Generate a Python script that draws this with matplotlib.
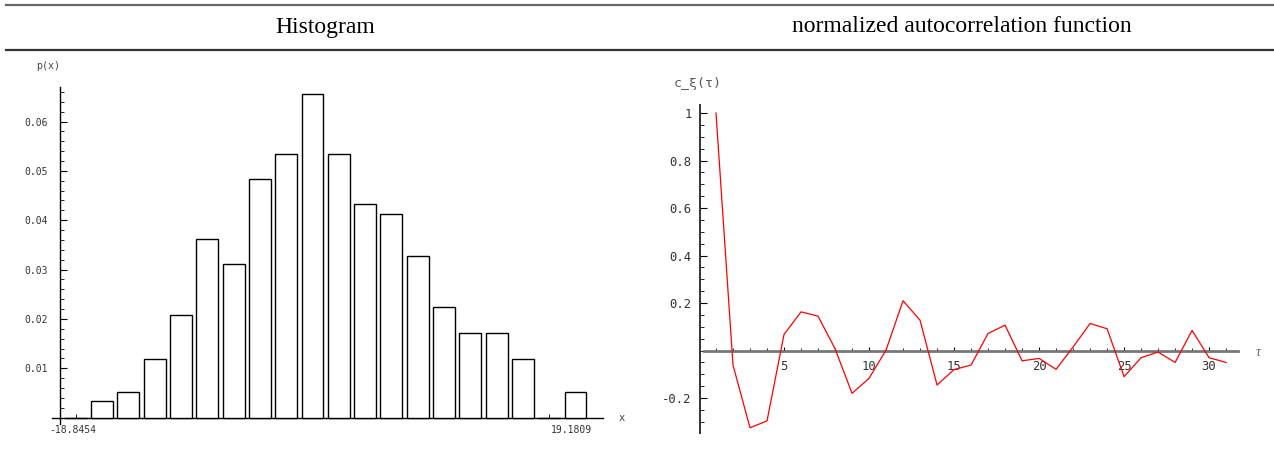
import numpy as np
import matplotlib
matplotlib.use("Agg")
import matplotlib.pyplot as plt
from matplotlib.lines import Line2D
from matplotlib.ticker import FixedLocator, FuncFormatter

plt.rcParams["axes.unicode_minus"] = False

# ---- data -------------------------------------------------------------
hist_bins = np.arange(20)  # bin index
hist_density = [0.0, 0.0034, 0.0051, 0.0119, 0.0207, 0.0361, 0.0311, 0.0483,
                0.0534, 0.0656, 0.0534, 0.0432, 0.0413, 0.0328, 0.0224,
                0.0172, 0.0172, 0.0119, 0.0, 0.0051]
hist_tick_labels = ["-18.8454", "19.1809"]
hist_yticks = [0.01, 0.02, 0.03, 0.04, 0.05, 0.06]

tau = np.arange(1, 32)
acf = [1.0, -0.061, -0.325, -0.296, 0.068, 0.163, 0.145, 0.008, -0.180,
       -0.117, 0.002, 0.210, 0.128, -0.145, -0.080, -0.061, 0.072, 0.107,
       -0.043, -0.033, -0.079, 0.015, 0.114, 0.092, -0.110, -0.030,
       -0.006, -0.050, 0.085, -0.030, -0.050]
acf_yticks = [-0.2, 0.2, 0.4, 0.6, 0.8, 1.0]
acf_xticks = [5, 10, 15, 20, 25, 30]

titles = ["Histogram", "normalized autocorrelation function"]

# ---- figure -----------------------------------------------------------
W, H = 1274, 451
fig = plt.figure(figsize=(W / 100, H / 100), dpi=100)
fig.patch.set_facecolor("white")


def fx(px):
    return px / W


def fy(py):
    return 1 - py / H


# header rules and titles
fig.add_artist(Line2D([fx(6), 1], [fy(5), fy(5)], color="#666666", lw=1.6))
fig.add_artist(Line2D([fx(6), 1], [fy(50), fy(50)], color="#333333", lw=1.6))
fig.text(fx(325), fy(27), titles[0], ha="center", va="center",
         family="Liberation Serif", fontsize=17, color="black")
fig.text(fx(962), fy(27), titles[1], ha="center", va="center",
         family="Liberation Serif", fontsize=17, color="black")

mono = "DejaVu Sans Mono"
tick_col = "#333333"

# ---- histogram --------------------------------------------------------
ax1 = fig.add_axes([fx(52), fy(424), fx(603 - 52), (424 - 87) / H])
ax1.bar(hist_bins, hist_density, width=0.83, facecolor="white",
        edgecolor="black", linewidth=1.0, zorder=3)
ax1.set_xlim(-0.905, 20.045)
ax1.set_ylim(-0.0013, 0.0670)
for s in ("top", "right"):
    ax1.spines[s].set_visible(False)
ax1.spines["left"].set_position(("data", -0.6))
ax1.spines["bottom"].set_position(("data", 0))
ax1.spines["left"].set_linewidth(1.0)
ax1.spines["bottom"].set_linewidth(1.0)
ax1.patch.set_alpha(0)

ax1.yaxis.set_major_locator(FixedLocator(hist_yticks))
ax1.yaxis.set_minor_locator(FixedLocator(np.arange(0.002, 0.067, 0.002)))
ax1.yaxis.set_major_formatter(FuncFormatter(lambda v, p: f"{v:.2f}"))
ax1.tick_params(axis="y", which="major", direction="in", length=5, width=0.8,
                pad=8.5, labelsize=7, labelcolor=tick_col)
ax1.tick_params(axis="y", which="minor", direction="in", length=3, width=0.6)
for lab in ax1.get_yticklabels():
    lab.set_family(mono)

ax1.set_xticks([-0.125, 18.855])
ax1.set_xticklabels(hist_tick_labels)
ax1.xaxis.set_minor_locator(FixedLocator([0, 18]))
ax1.tick_params(axis="x", which="major", direction="in", length=0,
                pad=5.5, labelsize=7, labelcolor=tick_col)
ax1.tick_params(axis="x", which="minor", direction="in", length=3, width=0.6)
for lab in ax1.get_xticklabels():
    lab.set_family(mono)

fig.text(fx(36), fy(66), "p(x)", ha="left", va="center", family=mono,
         fontsize=7.2, color="#444444")
fig.text(fx(622), fy(418), "x", ha="center", va="center", family=mono,
         fontsize=7.5, color="#444444")

# ---- autocorrelation --------------------------------------------------
ax2 = fig.add_axes([fx(699), fy(433), fx(1238 - 699), (433 - 105) / H])
ax2.plot(tau, acf, color="red", lw=0.9, zorder=3)
ax2.set_xlim(0, 31.7)
ax2.set_ylim(-0.347, 1.034)
for s in ("top", "right"):
    ax2.spines[s].set_visible(False)
ax2.spines["left"].set_position(("data", 0.06))
ax2.spines["bottom"].set_position(("data", 0))
ax2.spines["bottom"].set_bounds(0.3, 31.7)
ax2.spines["left"].set_linewidth(1.4)
ax2.spines["left"].set_color("#333333")
ax2.spines["bottom"].set_linewidth(2.0)
ax2.spines["bottom"].set_color("#777777")
ax2.patch.set_alpha(0)

ax2.yaxis.set_major_locator(FixedLocator(acf_yticks))
ax2.yaxis.set_minor_locator(FixedLocator(np.arange(-0.35, 1.03, 0.05)))
ax2.yaxis.set_major_formatter(FuncFormatter(lambda v, p: f"{v:g}"))
ax2.tick_params(axis="y", which="major", direction="in", length=5, width=0.8,
                pad=6, labelsize=8.8, labelcolor=tick_col)
ax2.tick_params(axis="y", which="minor", direction="in", length=3, width=0.6)

ax2.xaxis.set_major_locator(FixedLocator(acf_xticks))
ax2.xaxis.set_minor_locator(FixedLocator(np.arange(1, 32)))
ax2.xaxis.set_major_formatter(FuncFormatter(lambda v, p: f"{v:g}"))
ax2.tick_params(axis="x", which="major", direction="in", length=3, width=0.8,
                pad=7, labelsize=8.8, labelcolor=tick_col)
ax2.tick_params(axis="x", which="minor", direction="in", length=2, width=0.6)
for lab in ax2.get_yticklabels() + ax2.get_xticklabels():
    lab.set_family(mono)

fig.text(fx(674), fy(83), "c_ξ(τ)", ha="left", va="center", family=mono,
         fontsize=9.5, color="#555555")
fig.text(fx(1258), fy(352), "τ", ha="center", va="center",
         family="Liberation Serif", style="italic", fontsize=10, color="#666666")

fig.savefig("out.png", dpi=100, facecolor="white")
